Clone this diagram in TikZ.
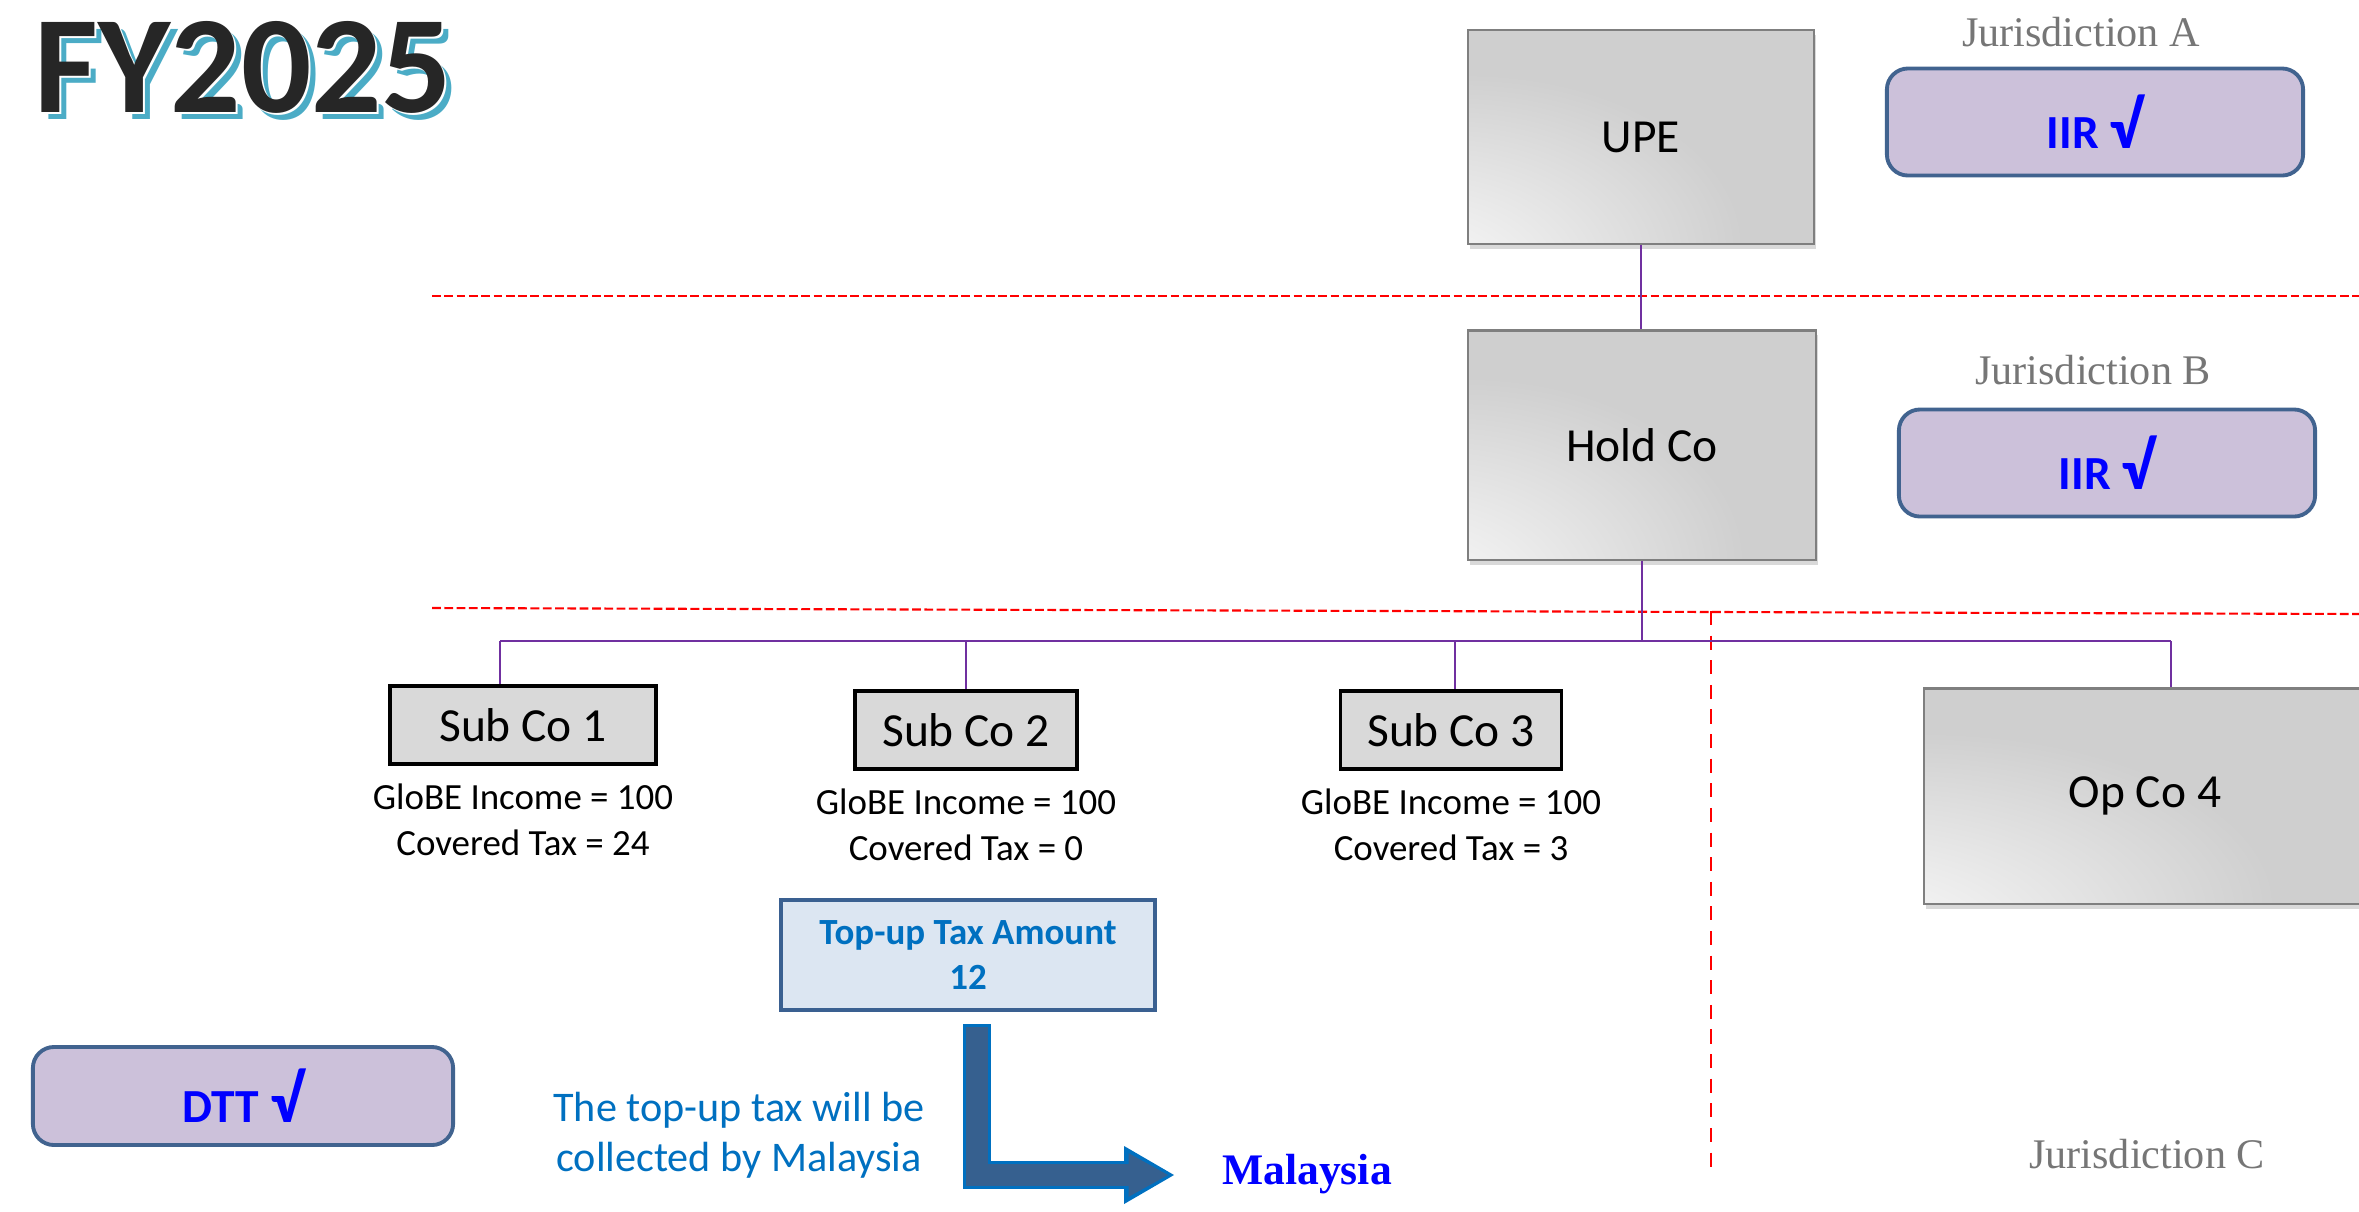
\documentclass[tikz,border=0pt]{standalone}
\usepackage{fontspec}
\setmainfont{Carlito}
\newfontfamily\jurFont{Liberation Serif}
\usetikzlibrary{arrows.meta, positioning, shadows}
\definecolor{orgPurple}{HTML}{7030A0}
\definecolor{lineRed}{HTML}{FF0000}
\definecolor{boxGray}{HTML}{CFCFCF}
\definecolor{edgeGray}{HTML}{7F7F7F}
\definecolor{subFill}{HTML}{D9D9D9}
\definecolor{ruleFill}{HTML}{CCC1DA}
\definecolor{ruleEdge}{HTML}{41638F}
\definecolor{taxFill}{HTML}{DCE6F2}
\definecolor{taxEdge}{HTML}{3A6091}
\definecolor{noteBlue}{HTML}{0070C0}
\definecolor{arrowFill}{HTML}{36608F}
\definecolor{titleDark}{HTML}{262626}
\definecolor{titleShade}{HTML}{4BACC6}
\definecolor{jurGray}{HTML}{767676}
\pgfdeclareradialshading{entShade}{\pgfpoint{-42bp}{-42bp}}{color(0bp)=(white); color(14bp)=(white!95!black); color(40bp)=(boxGray); color(100bp)=(boxGray)}
\newcommand{\ruleTick}{{\fontsize{19}{20}\selectfont √}}

\tikzset{
  entBox/.style={draw=edgeGray, line width=0.6pt, shading=entShade, inner sep=0pt,
    drop shadow={opacity=0.3, shadow xshift=0.6pt, shadow yshift=-1.4pt},
    font=\fontsize{13.5}{16}\selectfont},
  subBox/.style={draw=black, line width=0.9pt, fill=subFill, inner sep=0pt,
    minimum height=0.78cm, font=\fontsize{13.5}{16}\selectfont},
  infoText/.style={align=center, inner sep=0pt, font=\fontsize{10.5}{13}\selectfont},
  ruleBox/.style={draw=ruleEdge, line width=1.1pt, fill=ruleFill, rounded corners=6pt,
    minimum width=4.16cm, minimum height=1.07cm, text=blue,
    font=\fontsize{13.5}{16}\selectfont\bfseries},
  jurText/.style={text=jurGray, inner sep=0pt, font=\jurFont\fontsize{12}{14}\selectfont},
  taxBox/.style={draw=taxEdge, line width=1.3pt, fill=taxFill, align=center, text=noteBlue,
    font=\fontsize{10.5}{12.8}\selectfont\bfseries},
  noteText/.style={align=center, text=noteBlue, inner sep=0pt, font=\fontsize{12}{14.2}\selectfont},
  titleText/.style={anchor=base west, inner sep=0pt, font=\fontsize{39.5}{44}\selectfont\bfseries},
  orgLine/.style={draw=orgPurple, line width=0.6pt},
  sepLine/.style={draw=lineRed, line width=0.6pt, dash pattern=on 2.5pt off 1pt},
  sepLineV/.style={draw=lineRed, line width=0.6pt, dash pattern=on 4pt off 3pt}
}

\begin{document}
\begin{tikzpicture}[x=0.01cm, y=-0.01cm]
  \useasboundingbox (0,0) rectangle (2359,1211);

  % title
  \node[titleText, text=titleShade] (titleBack) at (41,119) {FY2025};
  \node[titleText, text=white] (titleGap) at (36,114) {FY2025};
  \node[titleText, text=titleDark] (title) at (34,112) {FY2025};

  % jurisdiction borders
  \draw[sepLine] (432,296) -- (2359,296);
  \draw[sepLine] (432,608) -- (2359,614);
  \draw[sepLineV] (1711,611) -- (1711,1177);

  % entities
  \node[entBox, minimum width=3.46cm, minimum height=2.14cm] (upe) at (1641,137) {UPE};
  \node[entBox, minimum width=3.48cm, minimum height=2.29cm] (hold) at (1642,445) {Hold Co};
  \node[entBox, minimum width=4.42cm, minimum height=2.15cm] (op4) at (2145,796) {\raisebox{-2pt}{Op Co 4}};

  \foreach \i/\x/\y/\w/\tax in {1/523/725/2.66cm/24, 2/966/730/2.22cm/0, 3/1451/730/2.21cm/3} {
    \node[subBox, minimum width=\w] (sub\i) at (\x,\y) {Sub Co \i};
    \node[infoText, below=5pt of sub\i] (info\i) {GloBE Income = 100\\Covered Tax = \tax};
  }

  % ownership lines
  \draw[orgLine] (upe.south) -- (upe.south |- hold.north);
  \coordinate (busL) at (500,641);
  \coordinate (busR) at (2171,641);
  \draw[orgLine] (hold.south) -- (hold.south |- busL);
  \draw[orgLine] (busL) -- (busR);
  \foreach \d/\n in {500/sub1, 966/sub2, 1455/sub3, 2171/op4} {
    \coordinate (drop-\n) at (\d,641);
    \draw[orgLine] (drop-\n) -- (drop-\n |- \n.north);
  }

  % rules per jurisdiction
  \node[jurText] (jurA) at (2081,32) {Jurisdiction A};
  \node[ruleBox] (iirA) at (2095,122) {IIR \ruleTick};
  \node[jurText] (jurB) at (2093,370) {Jurisdiction B};
  \node[ruleBox] (iirB) at (2107,463) {IIR \ruleTick};
  \node[ruleBox, minimum width=4.20cm, minimum height=0.98cm] (dtt) at (243,1096) {DTT \ruleTick};
  \node[jurText] (jurC) at (2147,1154) {Jurisdiction C};

  % top-up tax
  \node[taxBox, minimum width=3.74cm, minimum height=1.10cm] (topup) at (968,955) {Top-up Tax Amount\\12};
  \node[noteText] (note) at (739,1135) {The top-up tax will be\\collected by Malaysia};
  \node[text=blue, inner sep=0pt, font=\jurFont\fontsize{12.4}{14}\selectfont\bfseries] (malay) at (1307,1174) {Malaysia};

  \coordinate (arrStart) at (977,1024);
  \coordinate (arrTip) at (1174,1175);
  \draw[noteBlue, line width=8pt, -{Triangle[length=14.2pt, width=16.5pt, line width=0pt]}] (arrStart) |- (arrTip);
  \draw[arrowFill, line width=6.2pt, shorten <=0.9pt, shorten >=1.7pt,
    -{Triangle[length=11.2pt, width=12.4pt, line width=0pt]}] (arrStart) |- (arrTip);
\end{tikzpicture}
\end{document}
